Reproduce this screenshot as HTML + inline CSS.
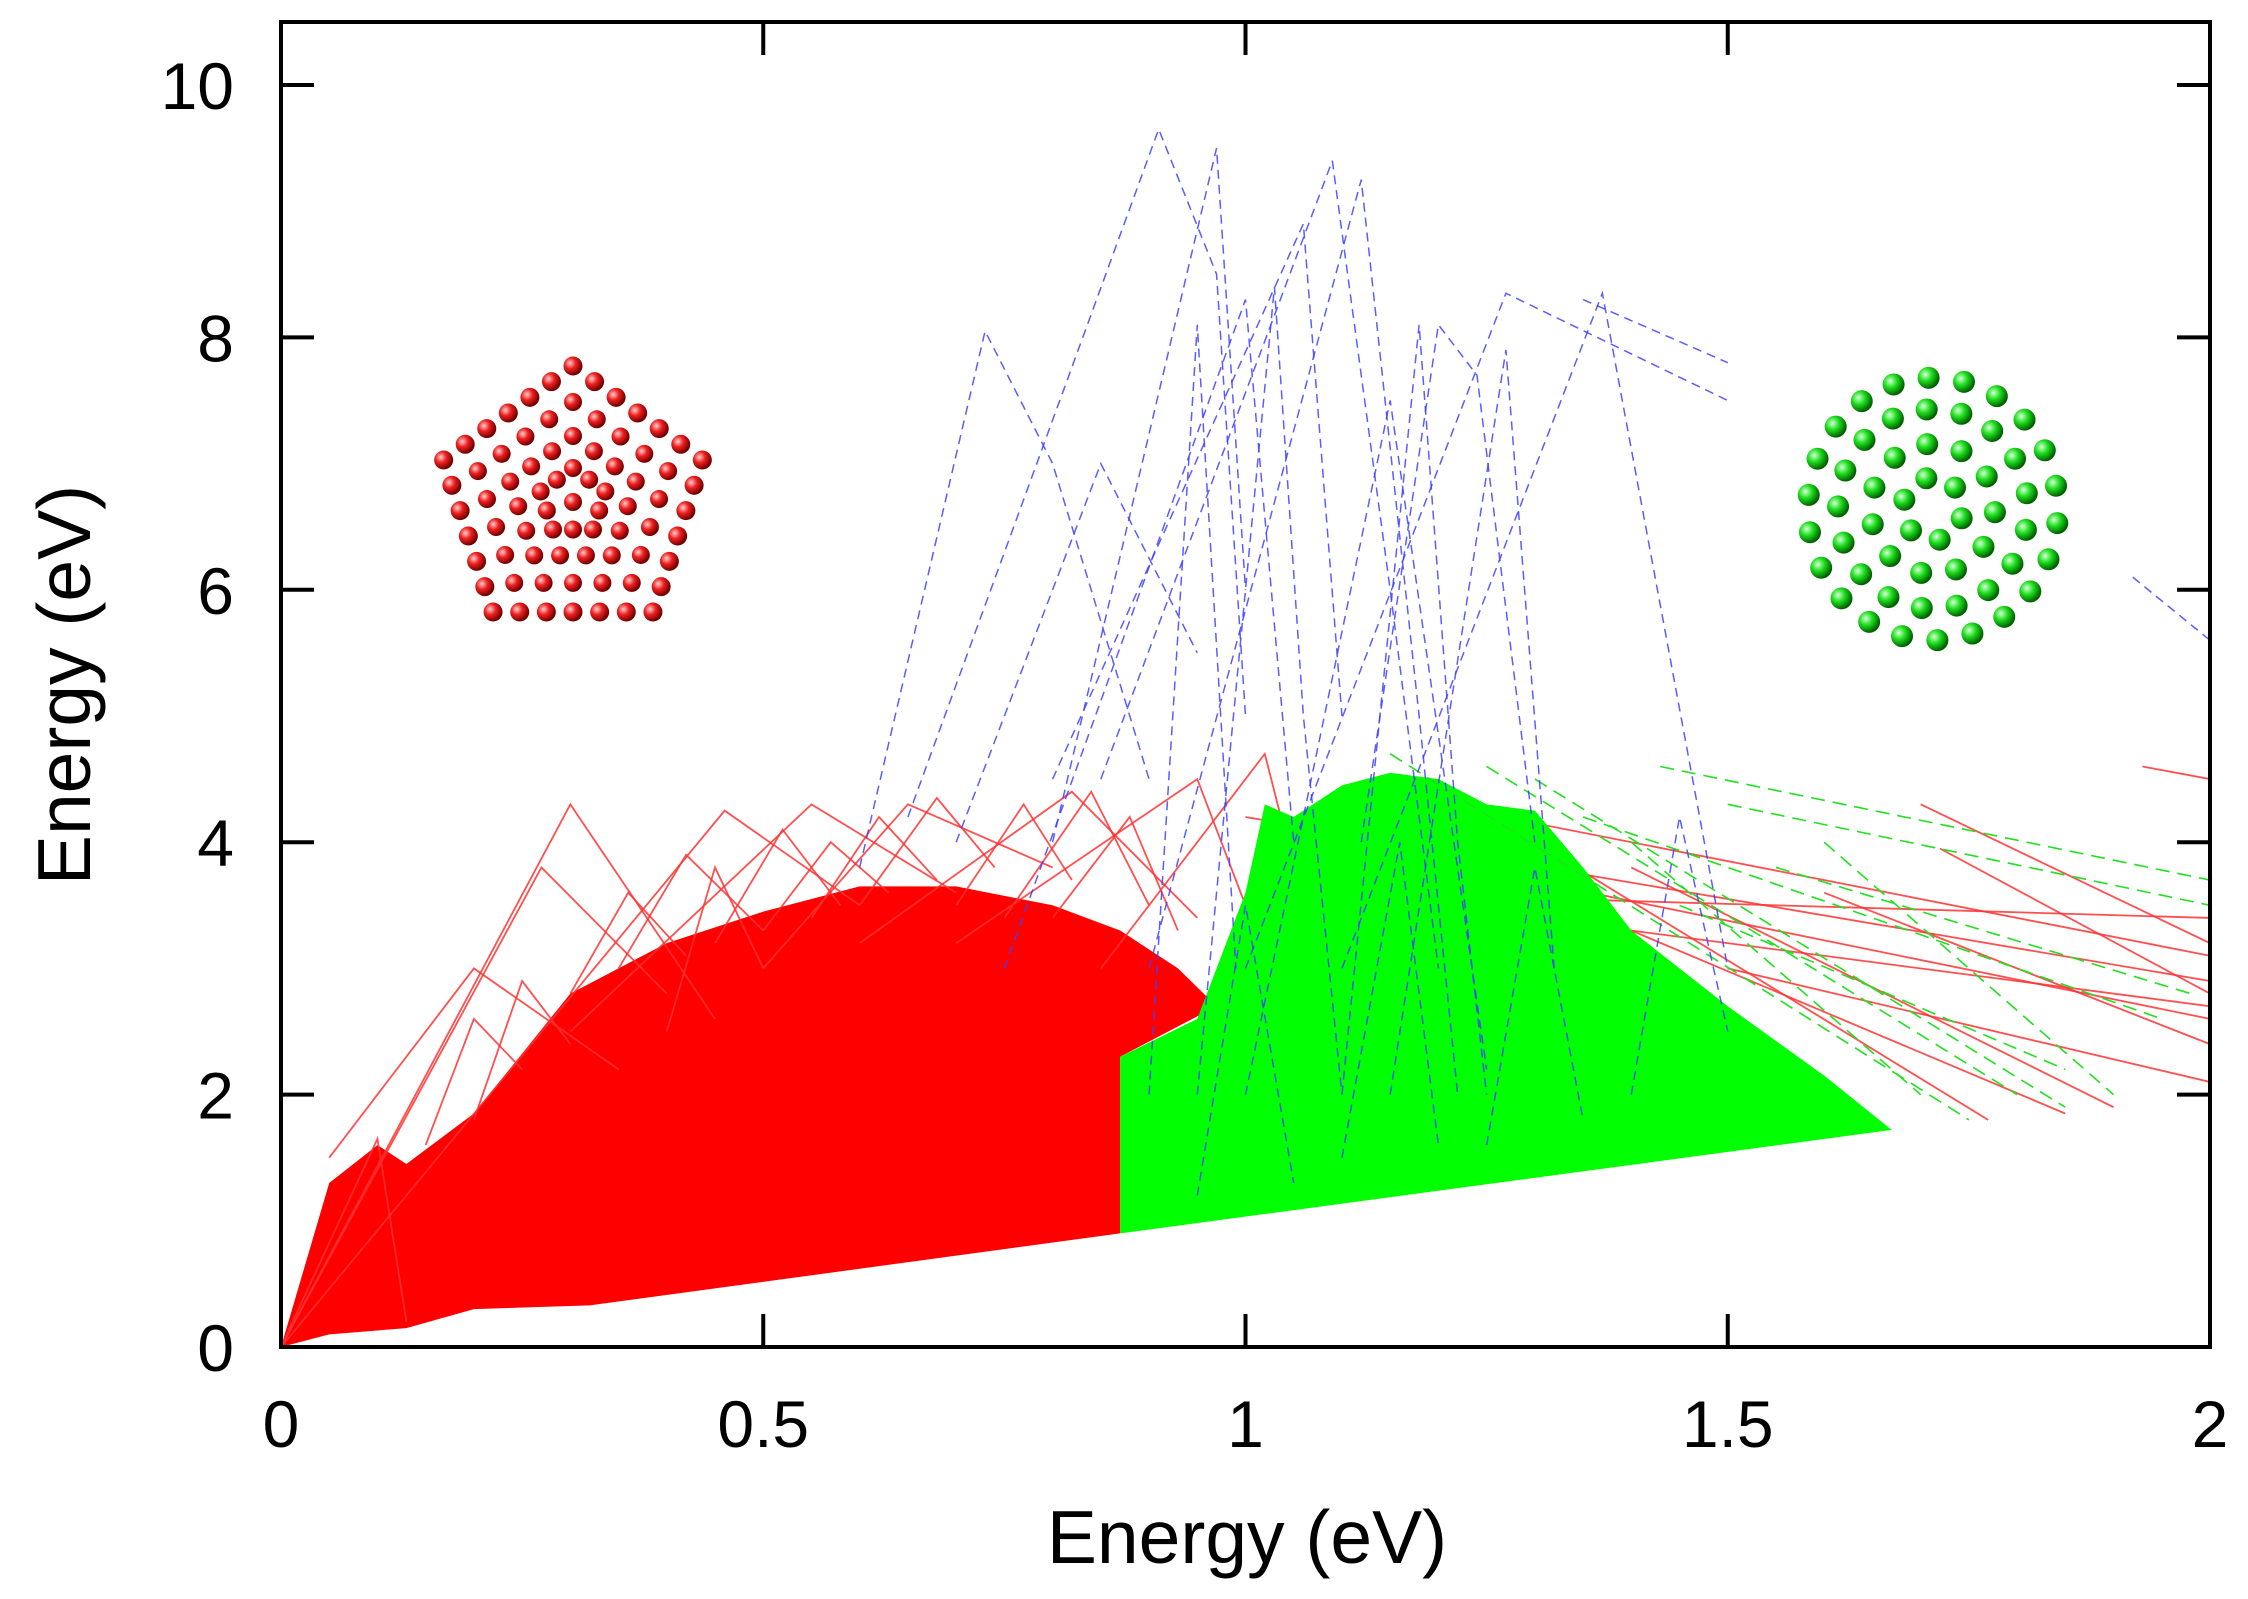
<!DOCTYPE html>
<html><head><meta charset="utf-8">
<style>
html,body{margin:0;padding:0;background:#fff;}
svg{display:block;}
text{font-family:"Liberation Sans",sans-serif;fill:#000;}
</style></head>
<body>
<svg id="chart" width="2248" height="1599" viewBox="0 0 2248 1599">
<defs>
<radialGradient id="rg" cx="35%" cy="35%" r="65%"><stop offset="0" stop-color="#ffd0d0"/><stop offset="0.45" stop-color="#f02020"/><stop offset="1" stop-color="#700000"/></radialGradient>
<radialGradient id="gg" cx="35%" cy="35%" r="65%"><stop offset="0" stop-color="#d8ffd8"/><stop offset="0.45" stop-color="#20e020"/><stop offset="1" stop-color="#006000"/></radialGradient>
<clipPath id="pc"><rect x="281" y="22" width="1929" height="1325"/></clipPath>
</defs>
<g id="marks" clip-path="url(#pc)"></g>
<g id="mols"></g>
<g id="axes"></g>
</svg>
<script>
// ---- data ----
const xTicks=[0,0.5,1,1.5,2];
const xTickLabels=["0","0.5","1","1.5","2"];
const yTicks=[0,2,4,6,8,10];
const yTickLabels=["0","2","4","6","8","10"];
const redAreaX=[0,0.05,0.1,0.13,0.2,0.3,0.4,0.5,0.6,0.7,0.8,0.87,0.93,0.97,0.87,0.87,0.6,0.32,0.2,0.13,0.05];
const redAreaY=[0,1.3,1.6,1.45,1.85,2.8,3.2,3.45,3.65,3.65,3.5,3.3,3.0,2.7,2.3,0.9,0.62,0.33,0.3,0.15,0.1];
const greenAreaX=[0.87,0.87,0.95,1.0,1.02,1.05,1.1,1.15,1.2,1.25,1.3,1.35,1.4,1.5,1.6,1.67,0.87];
const greenAreaY=[0.9,2.3,2.6,3.6,4.3,4.2,4.45,4.55,4.5,4.3,4.25,3.8,3.3,2.7,2.15,1.72,0.9];
const redLines=[
 [[0,0],[0.3,4.3],[0.45,2.6]],[[0,0],[0.27,3.8],[0.4,2.8]],[[0,0],[0.46,4.25],[0.6,3.5]],
 [[0,0],[0.1,1.65],[0.13,0.2]],[[0.05,1.5],[0.2,3.0],[0.35,2.2]],[[0.3,2.5],[0.55,4.3],[0.7,3.6]],
 [[0.5,3.0],[0.65,4.3],[0.8,3.8]],[[0.6,3.2],[0.82,4.4],[0.95,3.4]],[[0.7,3.2],[0.95,4.5],[1.0,3.5]],
 [[0.85,3.0],[1.02,4.7],[1.05,3.8]],[[1.0,4.2],[2.0,2.9]],[[1.1,4.0],[2.0,2.6]],[[1.2,4.3],[2.0,3.1]],
 [[1.7,4.3],[2.0,3.2]],[[1.93,4.6],[2.0,4.5]],[[1.5,3.0],[2.0,2.1]],[[1.3,4.0],[1.77,1.8]],
 [[1.4,3.8],[1.9,1.9]],[[1.4,3.3],[1.85,1.85]],[[1.2,3.5],[2.0,2.7]],[[1.1,3.6],[2.0,3.4]],
 [[1.6,3.6],[2.0,2.4]],[[1.72,3.95],[2.0,2.8]],[[0.4,2.5],[0.45,3.8],[0.5,3.0]],
 [[0.35,3.0],[0.42,3.9],[0.5,3.3]],[[0.45,3.2],[0.52,4.1],[0.58,3.5]],[[0.55,3.4],[0.62,4.2],[0.68,3.7]],
 [[0.6,3.5],[0.68,4.35],[0.74,3.8]],[[0.7,3.5],[0.77,4.3],[0.82,3.7]],[[0.75,3.4],[0.84,4.4],[0.9,3.5]],
 [[0.2,1.8],[0.25,2.9],[0.3,2.4]],[[0.15,1.6],[0.2,2.6],[0.25,2.2]],[[0.5,3.3],[0.57,4.0],[0.63,3.6]],
 [[0.8,3.4],[0.88,4.2],[0.93,3.3]],[[0.3,2.8],[0.36,3.6],[0.42,3.1]]
];
const greenLines=[
 [[1.3,4.5],[1.85,1.9]],[[1.43,4.6],[2.0,3.7]],[[1.5,4.3],[2.0,3.5]],[[1.6,4.0],[1.9,2.0]],
 [[1.15,4.7],[1.75,1.8]],[[1.35,4.2],[1.95,2.6]],[[1.25,4.6],[1.8,2.0]],[[1.55,3.8],[1.98,2.8]],
 [[1.4,4.0],[1.7,2.0]],[[1.45,3.5],[1.85,2.2]]
];
const blueLines=[
 [[0.6,3.8],[0.73,8.05],[0.8,7.0],[0.9,4.5]],[[0.65,4.2],[0.91,9.65],[0.97,8.5],[1.0,5]],
 [[0.8,4],[0.97,9.5],[1.0,6]],[[0.85,4.5],[1.09,9.4],[1.15,6],[1.2,3]],
 [[0.9,3],[1.12,9.25],[1.18,5],[1.22,2]],[[1.0,3],[1.27,8.35],[1.5,7.5]],
 [[1.1,3],[1.37,8.35],[1.5,3]],[[1.35,8.3],[1.5,7.8]],[[0.95,2],[1.03,8.4],[1.06,5],[1.1,2]],
 [[0.9,2],[0.95,8.1],[0.99,3]],[[1.1,2],[1.18,8.1],[1.22,4],[1.25,2]],
 [[1.12,4],[1.2,8.1],[1.24,7.7],[1.3,4]],[[1.92,6.1],[2.0,5.6]],[[0.7,4],[0.85,7],[0.95,5.5]],
 [[0.75,3],[1.0,8.3],[1.05,4]],[[0.8,4.5],[1.06,8.9],[1.1,5]],[[1.0,2],[1.15,7.5],[1.25,2.2]],
 [[1.15,2],[1.27,7.9],[1.32,3]],[[0.95,1.2],[1.0,3.5],[1.05,1.3]],[[1.1,1.5],[1.16,4.0],[1.2,1.6]],
 [[1.25,1.6],[1.3,3.8],[1.35,1.8]],[[1.4,2],[1.45,4.2],[1.5,2.5]]
];
// ---- scales ----
const X=v=>281+v*964.5, Y=v=>1347-v*126.2;
const NS="http://www.w3.org/2000/svg";
function mk(t,p,a){const e=document.createElementNS(NS,t);for(const k in a)e.setAttribute(k,a[k]);p.appendChild(e);return e;}
const marks=document.getElementById('marks');
let pts=redAreaX.map((x,i)=>X(x)+','+Y(redAreaY[i])).join(' ');
let e=mk('polygon',marks,{points:pts,fill:'#ff0000'});


redLines.forEach(l=>{const p=mk('polyline',marks,{points:l.map(q=>X(q[0])+','+Y(q[1])).join(' '),fill:'none',stroke:'#ff3030','stroke-width':1.8,'stroke-opacity':0.85});

});
pts=greenAreaX.map((x,i)=>X(x)+','+Y(greenAreaY[i])).join(' ');
e=mk('polygon',marks,{points:pts,fill:'#00ff00'});


greenLines.forEach(l=>{const p=mk('polyline',marks,{points:l.map(q=>X(q[0])+','+Y(q[1])).join(' '),fill:'none',stroke:'#20e020','stroke-width':1.6,'stroke-dasharray':'14 8'});

});
blueLines.forEach(l=>{const p=mk('polyline',marks,{points:l.map(q=>X(q[0])+','+Y(q[1])).join(' '),fill:'none',stroke:'#4040ff','stroke-width':1.5,'stroke-dasharray':'9 6','stroke-opacity':0.85});

});
// ---- molecules (decorative) ----
const mols=document.getElementById('mols');
const cx=573,cy=502;
for(const [R,n,r] of [[136,6,9.5],[100,4,9],[66,3,9],[34,2,9]]){
 const V=[];for(let k=0;k<5;k++){const a=-Math.PI/2+k*2*Math.PI/5;V.push([cx+R*Math.cos(a),cy+R*Math.sin(a)]);}
 for(let k=0;k<5;k++){const A=V[k],B=V[(k+1)%5];for(let j=0;j<n;j++){const t=j/n;mk('circle',mols,{cx:A[0]+(B[0]-A[0])*t,cy:A[1]+(B[1]-A[1])*t,r:r,fill:'url(#rg)'});}}
}
mk('circle',mols,{cx:cx,cy:cy,r:9,fill:'url(#rg)'});
const gx=1933,gy=509;
for(const [R,n] of [[125,22],[95,17],[62,11],[30,6]]){
 for(let j=0;j<n;j++){const a=j*2*Math.PI/n+R*0.01;mk('circle',mols,{cx:gx+R*Math.cos(a),cy:gy+R*Math.sin(a)*1.05,r:11,fill:'url(#gg)'});}
}
// ---- axes ----
const ax=document.getElementById('axes');
mk('rect',ax,{x:281,y:22,width:1929,height:1325,fill:'none',stroke:'#000','stroke-width':4});
xTicks.forEach((v,i)=>{
 mk('line',ax,{x1:X(v),x2:X(v),y1:1347,y2:1314,stroke:'#000','stroke-width':4});
 mk('line',ax,{x1:X(v),x2:X(v),y1:22,y2:55,stroke:'#000','stroke-width':4});
 const t=mk('text',ax,{x:X(v),y:1447,'font-size':66,'text-anchor':'middle'});t.textContent=xTickLabels[i];
 
 
});
yTicks.forEach((v,i)=>{
 mk('line',ax,{x1:281,x2:314,y1:Y(v),y2:Y(v),stroke:'#000','stroke-width':4});
 mk('line',ax,{x1:2177,x2:2210,y1:Y(v),y2:Y(v),stroke:'#000','stroke-width':4});
 const t=mk('text',ax,{x:234,y:Y(v)+24,'font-size':66,'text-anchor':'end'});t.textContent=yTickLabels[i];
 
 
});
let t=mk('text',ax,{x:1247,y:1563,'font-size':75,'text-anchor':'middle'});t.textContent='Energy (eV)';


t=mk('text',ax,{x:0,y:0,'font-size':75,'text-anchor':'middle',transform:'translate(90,685) rotate(-90)'});t.textContent='Energy (eV)';


</script>
</body></html>
